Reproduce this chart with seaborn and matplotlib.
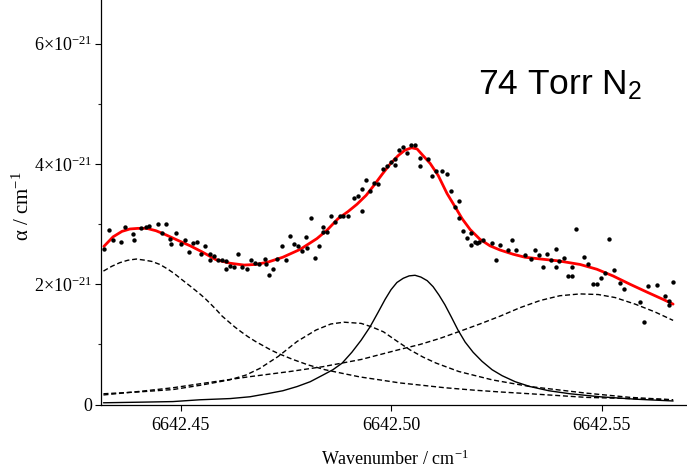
import matplotlib
matplotlib.use("Agg")
import matplotlib.pyplot as plt
from matplotlib.ticker import FixedLocator
import seaborn as sns

# Absorption spectrum at 74 Torr N2: measured points, total fit and its four line components.
# Absorption coefficient values are in units of 1e-21 cm^-1.

wn_meas = [
    6642.4319, 6642.4330, 6642.4339, 6642.4358, 6642.4369, 6642.4388, 6642.4389, 6642.4407,
    6642.4417, 6642.4426, 6642.4447, 6642.4457, 6642.4466, 6642.4476, 6642.4477, 6642.4490,
    6642.4500, 6642.4510, 6642.4520, 6642.4530, 6642.4539, 6642.4549, 6642.4559, 6642.4569,
    6642.4570, 6642.4580, 6642.4589, 6642.4599, 6642.4608, 6642.4609, 6642.4618, 6642.4628,
    6642.4637, 6642.4647, 6642.4657, 6642.4667, 6642.4676, 6642.4686, 6642.4701, 6642.4702,
    6642.4711, 6642.4720, 6642.4730, 6642.4740, 6642.4750, 6642.4759, 6642.4770, 6642.4780,
    6642.4789, 6642.4799, 6642.4800, 6642.4809, 6642.4819, 6642.4828, 6642.4838, 6642.4839,
    6642.4848, 6642.4858, 6642.4868, 6642.4878, 6642.4887, 6642.4897, 6642.4912, 6642.4921,
    6642.4931, 6642.4932, 6642.4941, 6642.4951, 6642.4960, 6642.4970, 6642.4980, 6642.4990,
    6642.4999, 6642.5009, 6642.5010, 6642.5019, 6642.5029, 6642.5039, 6642.5048, 6642.5058,
    6642.5068, 6642.5069, 6642.5088, 6642.5098, 6642.5107, 6642.5122, 6642.5132, 6642.5142,
    6642.5151, 6642.5161, 6642.5162, 6642.5170, 6642.5181, 6642.5190, 6642.5191, 6642.5200,
    6642.5204, 6642.5210, 6642.5219, 6642.5239, 6642.5249, 6642.5258, 6642.5278, 6642.5288,
    6642.5298, 6642.5318, 6642.5332, 6642.5342, 6642.5352, 6642.5362, 6642.5371, 6642.5381,
    6642.5391, 6642.5392, 6642.5400, 6642.5410, 6642.5420, 6642.5430, 6642.5431, 6642.5440,
    6642.5459, 6642.5469, 6642.5479, 6642.5489, 6642.5498, 6642.5508, 6642.5518, 6642.5529,
    6642.5543, 6642.5553, 6642.5591, 6642.5601, 6642.5611, 6642.5631, 6642.5650, 6642.5660,
    6642.5661, 6642.5669,
]
alpha_meas = [
    2.59, 2.90, 2.73, 2.70, 2.96, 2.83, 2.73, 2.94,
    2.96, 2.97, 3.01, 2.86, 3.01, 2.76, 2.67, 2.85,
    2.67, 2.74, 2.54, 2.68, 2.71, 2.51, 2.64, 2.51,
    2.41, 2.47, 2.41, 2.40, 2.38, 2.25, 2.31, 2.28,
    2.50, 2.29, 2.26, 2.40, 2.35, 2.33, 2.42, 2.34,
    2.16, 2.25, 2.42, 2.63, 2.40, 2.81, 2.67, 2.63,
    2.56, 2.79, 2.61, 3.11, 2.43, 2.63, 2.96, 2.87,
    2.87, 3.14, 3.04, 3.13, 3.13, 3.13, 3.43, 3.46,
    3.58, 3.22, 3.73, 3.55, 3.69, 3.66, 3.91, 3.97,
    4.03, 3.99, 4.09, 4.23, 4.28, 4.19, 4.32, 4.32,
    4.10, 3.96, 4.08, 3.80, 3.89, 3.88, 3.84, 3.55,
    3.29, 3.39, 3.11, 2.88, 2.77, 2.85, 2.65, 2.70,
    2.69, 2.70, 2.74, 2.69, 2.40, 2.66, 2.57, 2.74,
    2.57, 2.49, 2.42, 2.57, 2.48, 2.28, 2.50, 2.41,
    2.59, 2.28, 2.38, 2.44, 2.13, 2.13, 2.28, 2.92,
    2.45, 2.33, 2.00, 2.00, 2.11, 2.19, 2.76, 2.23,
    2.02, 1.93, 1.70, 1.37, 1.97, 1.99, 1.81, 1.73,
    1.65, 2.04,
]

# Total fitted profile
wn_fit = [
    6642.4318, 6642.4340, 6642.4361, 6642.4380, 6642.4399, 6642.4420, 6642.4442, 6642.4466,
    6642.4494, 6642.4523, 6642.4551, 6642.4584, 6642.4618, 6642.4651, 6642.4679, 6642.4708,
    6642.4743, 6642.4784, 6642.4824, 6642.4848, 6642.4874, 6642.4898, 6642.4919, 6642.4941,
    6642.4960, 6642.4979, 6642.4998, 6642.5017, 6642.5033, 6642.5049, 6642.5062, 6642.5076,
    6642.5093, 6642.5112, 6642.5133, 6642.5152, 6642.5169, 6642.5188, 6642.5211, 6642.5235,
    6642.5259, 6642.5290, 6642.5318, 6642.5356, 6642.5397, 6642.5449, 6642.5489, 6642.5527,
    6642.5568, 6642.5608, 6642.5646, 6642.5670,
]
alpha_fit = [
    2.63, 2.79, 2.88, 2.92, 2.93, 2.93, 2.89, 2.82,
    2.73, 2.64, 2.54, 2.41, 2.35, 2.32, 2.33, 2.37,
    2.45, 2.58, 2.76, 2.90, 3.09, 3.21, 3.33, 3.48,
    3.65, 3.83, 4.00, 4.14, 4.23, 4.27, 4.25, 4.14,
    4.01, 3.81, 3.51, 3.29, 3.09, 2.91, 2.75, 2.64,
    2.57, 2.50, 2.45, 2.42, 2.39, 2.33, 2.25, 2.14,
    2.00, 1.87, 1.75, 1.67,
]

# Component 1 (dashed, low-wavenumber line)
wn_c1 = [
    6642.4317, 6642.4337, 6642.4356, 6642.4375, 6642.4395, 6642.4416, 6642.4432, 6642.4451,
    6642.4468, 6642.4485, 6642.4501, 6642.4523, 6642.4546, 6642.4559, 6642.4572, 6642.4586,
    6642.4599, 6642.4614, 6642.4629, 6642.4644, 6642.4660, 6642.4678, 6642.4696, 6642.4714,
    6642.4732, 6642.4767, 6642.4803, 6642.4843, 6642.4884, 6642.4926, 6642.4974, 6642.5021,
    6642.5062, 6642.5128, 6642.5197, 6642.5259, 6642.5330, 6642.5397, 6642.5463, 6642.5568,
    6642.5670,
]
alpha_c1 = [
    2.22, 2.30, 2.36, 2.40, 2.42, 2.40, 2.38, 2.33,
    2.26, 2.18, 2.09, 1.97, 1.84, 1.76, 1.67, 1.57,
    1.47, 1.38, 1.29, 1.21, 1.13, 1.05, 0.98, 0.91,
    0.85, 0.75, 0.66, 0.58, 0.52, 0.46, 0.41, 0.36,
    0.33, 0.28, 0.24, 0.21, 0.18, 0.15, 0.12, 0.10,
    0.08,
]

# Component 2 (dashed, centred near 6642.489)
wn_c2 = [
    6642.4317, 6642.4400, 6642.4482, 6642.4546, 6642.4616, 6642.4655, 6642.4688, 6642.4732,
    6642.4777, 6642.4822, 6642.4857, 6642.4888, 6642.4929, 6642.4955, 6642.4982, 6642.5013,
    6642.5045, 6642.5076, 6642.5107, 6642.5161, 6642.5241, 6642.5330, 6642.5464, 6642.5568,
    6642.5670,
]
alpha_c2 = [
    0.18, 0.21, 0.25, 0.32, 0.41, 0.49, 0.60, 0.80,
    1.05, 1.24, 1.34, 1.37, 1.35, 1.29, 1.21, 1.06,
    0.91, 0.79, 0.69, 0.55, 0.41, 0.30, 0.19, 0.12,
    0.08,
]

# Component 3 (solid, strongest narrow line)
wn_c3 = [
    6642.4317, 6642.4404, 6642.4482, 6642.4546, 6642.4618, 6642.4665, 6642.4705, 6642.4743,
    6642.4777, 6642.4808, 6642.4838, 6642.4862, 6642.4884, 6642.4907, 6642.4929, 6642.4950,
    6642.4969, 6642.4986, 6642.5000, 6642.5014, 6642.5029, 6642.5043, 6642.5057, 6642.5071,
    6642.5086, 6642.5100, 6642.5114, 6642.5128, 6642.5143, 6642.5159, 6642.5176, 6642.5195,
    6642.5216, 6642.5240, 6642.5264, 6642.5295, 6642.5330, 6642.5375, 6642.5425, 6642.5496,
    6642.5580, 6642.5670,
]
alpha_c3 = [
    0.03, 0.04, 0.05, 0.08, 0.10, 0.13, 0.18, 0.23,
    0.30, 0.38, 0.49, 0.58, 0.69, 0.87, 1.07, 1.29,
    1.53, 1.75, 1.91, 2.03, 2.10, 2.14, 2.15, 2.12,
    2.06, 1.96, 1.82, 1.66, 1.46, 1.24, 1.04, 0.87,
    0.72, 0.58, 0.48, 0.38, 0.30, 0.23, 0.18, 0.13,
    0.09, 0.06,
]

# Component 4 (dashed, broad high-wavenumber line)
wn_c4 = [
    6642.4317, 6642.4404, 6642.4482, 6642.4570, 6642.4660, 6642.4760, 6642.4838, 6642.4929,
    6642.5017, 6642.5069, 6642.5116, 6642.5164, 6642.5211, 6642.5259, 6642.5306, 6642.5354,
    6642.5401, 6642.5449, 6642.5492, 6642.5532, 6642.5580, 6642.5627, 6642.5670,
]
alpha_c4 = [
    0.16, 0.22, 0.28, 0.37, 0.46, 0.55, 0.63, 0.75,
    0.91, 1.00, 1.10, 1.22, 1.34, 1.47, 1.61, 1.73,
    1.81, 1.84, 1.83, 1.78, 1.67, 1.54, 1.40,
]

x_ticks = [6642.45, 6642.50, 6642.55]
x_tick_labels = ["6642.45", "6642.50", "6642.55"]
y_ticks = [0, 2, 4, 6]
y_tick_labels = ["0", r"$2{\times}10^{-21}$", r"$4{\times}10^{-21}$", r"$6{\times}10^{-21}$"]

sns.set_style("ticks")
plt.rcParams["font.family"] = ["Liberation Serif", "DejaVu Serif"]
plt.rcParams["mathtext.fontset"] = "custom"
plt.rcParams["mathtext.rm"] = "Liberation Serif"
plt.rcParams["mathtext.it"] = "Liberation Serif:italic"
plt.rcParams["mathtext.bf"] = "Liberation Serif:bold"
plt.rcParams["mathtext.sf"] = "Liberation Sans"
plt.rcParams["text.color"] = "black"
plt.rcParams["axes.labelcolor"] = "black"

fig = plt.figure(figsize=(6.87, 4.68), dpi=100)
ax = fig.add_axes([0.1463, 0.1355, 0.8537, 0.8645])

dash = (0, (3.6, 2.0))
line_kw = dict(ax=ax, color="black", lw=1.0, sort=False, estimator=None, legend=False)
sns.lineplot(x=wn_c1, y=alpha_c1, linestyle=dash, **line_kw)
sns.lineplot(x=wn_c2, y=alpha_c2, linestyle=dash, **line_kw)
sns.lineplot(x=wn_c4, y=alpha_c4, linestyle=dash, **line_kw)
sns.lineplot(x=wn_c3, y=alpha_c3, linestyle="-", **line_kw)
sns.lineplot(x=wn_fit, y=alpha_fit, ax=ax, color="#ff0000", lw=2.0, sort=False,
             estimator=None, legend=False, zorder=3)
sns.scatterplot(x=wn_meas, y=alpha_meas, ax=ax, color="black", s=10, linewidth=0,
                zorder=4, legend=False)

ax.set_xlim(6642.4310, 6642.5703)
ax.set_ylim(0, 6.727)

ax.xaxis.set_major_locator(FixedLocator(x_ticks))
ax.set_xticklabels(x_tick_labels)
ax.yaxis.set_major_locator(FixedLocator(y_ticks))
ax.set_yticklabels(y_tick_labels)
ax.yaxis.set_minor_locator(FixedLocator([1, 3, 5]))

ax.tick_params(axis="both", which="major", direction="out", length=4, width=0.8,
               labelsize=13, colors="black")
ax.tick_params(axis="y", which="minor", direction="out", length=2, width=0.8)
ax.tick_params(axis="x", pad=5)
ax.tick_params(axis="y", pad=2)

for side in ("top", "right"):
    ax.spines[side].set_visible(False)
for side in ("left", "bottom"):
    ax.spines[side].set_color("black")
    ax.spines[side].set_linewidth(0.9)

ax.set_xlabel(r"Wavenumber / cm$^{-1}$", fontsize=13)
ax.xaxis.set_label_coords(0.502, -0.112)
ax.set_ylabel(r"α / cm$^{-1}$", fontsize=15)
ax.yaxis.set_label_coords(-0.113, 0.49)

ax.text(0.644, 0.765, r"74 Torr N$_\mathsf{2}$", transform=ax.transAxes, fontsize=25.5,
        color="black", family=["Liberation Sans", "DejaVu Sans"], ha="left",
        va="baseline")

fig.savefig("out.png", dpi=100)
